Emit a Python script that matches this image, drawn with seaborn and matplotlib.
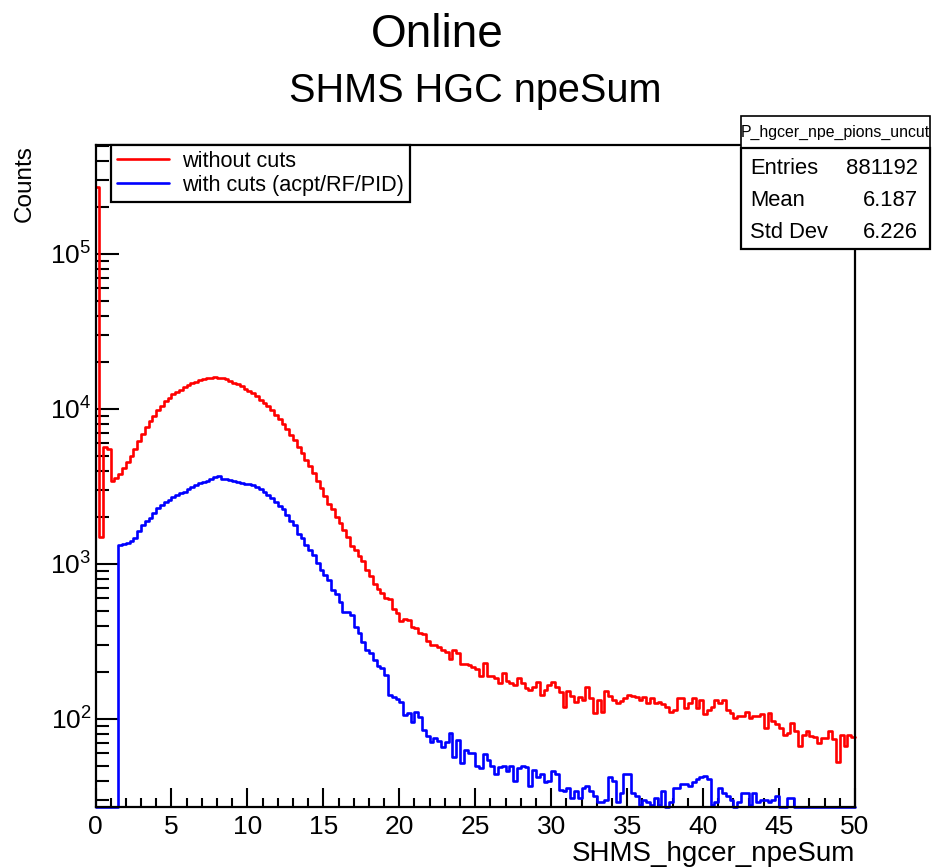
import numpy as np
import pandas as pd
import matplotlib
matplotlib.use("Agg")
import matplotlib.pyplot as plt
import seaborn as sns
from matplotlib.ticker import FixedLocator, LogLocator, MultipleLocator, NullFormatter, FixedFormatter
from matplotlib.patches import Rectangle
from matplotlib.lines import Line2D

# ---------------- data ----------------
X_MIN, X_MAX, N_BINS = 0.0, 50.0, 200

red_counts = [
    270000, 1500, 5700, 5500, 3450, 3600, 3800, 4150, 4550, 5000,
    5500, 6200, 6900, 7600, 8300, 9000, 9800, 10500, 11200, 11800,
    12400, 12900, 13300, 13800, 14300, 14700, 15000, 15300, 15600, 15800,
    15900, 16000, 15900, 15800, 15500, 15200, 14800, 14400, 14000, 13500,
    13100, 12700, 12100, 11500, 11000, 10400, 9800, 9100, 8600, 8000,
    7400, 6800, 6300, 5700, 5200, 4700, 4300, 3850, 3450, 3100,
    2750, 2450, 2250, 2000, 1830, 1650, 1500, 1300, 1230, 1120,
    1050, 920, 830, 740, 690, 650, 600, 590, 510, 480,
    430, 440, 435, 390, 385, 360, 355, 320, 300, 300,
    290, 280, 270, 245, 280, 265, 225, 225, 222, 215,
    210, 190, 229, 190, 189, 183, 170, 199, 175, 170,
    166, 183, 170, 158, 154, 160, 174, 143, 154, 165,
    174, 160, 150, 120, 152, 140, 129, 139, 133, 160,
    136, 109, 133, 110, 152, 140, 133, 126, 130, 136,
    143, 140, 139, 133, 139, 126, 136, 126, 129, 125,
    120, 111, 114, 136, 136, 117, 126, 136, 117, 133,
    107, 114, 120, 133, 126, 133, 114, 109, 101, 105,
    104, 110, 101, 105, 105, 107, 87, 109, 97, 92,
    87, 79, 81, 94, 83, 67, 79, 83, 77, 76,
    70, 75, 75, 83, 74, 53, 79, 67, 79, 76,
]

blue_counts = [
    0, 0, 0, 0, 0, 0, 1330, 1340, 1360, 1400,
    1480, 1620, 1780, 1880, 1980, 2120, 2290, 2400, 2520, 2600,
    2690, 2790, 2860, 2930, 3050, 3150, 3250, 3320, 3400, 3450,
    3550, 3620, 3700, 3520, 3550, 3480, 3450, 3400, 3350, 3300,
    3280, 3230, 3150, 3050, 2900, 2780, 2650, 2520, 2380, 2250,
    2080, 1900, 1780, 1560, 1470, 1330, 1230, 1140, 1010, 915,
    850, 789, 680, 640, 571, 492, 490, 470, 394, 360,
    315, 280, 265, 240, 218, 212, 192, 143, 139, 135,
    129, 106, 109, 96, 111, 103, 85, 78, 71, 75,
    72, 66, 71, 81, 57, 73, 52, 63, 60, 60,
    50, 48, 59, 54, 50, 44, 49, 50, 46, 50,
    40, 48, 50, 49, 37, 47, 42, 44, 39, 40,
    46, 44, 35, 34, 36, 31, 34, 31, 36, 37,
    34, 32, 29, 29, 30, 42, 40, 29, 33, 44,
    44, 33, 32, 28, 30, 29, 28, 31, 28, 34,
    0, 29, 36, 36, 38, 38, 37, 39, 41, 42,
    43, 41, 28, 29, 36, 33, 32, 30, 0, 29,
    33, 33, 28, 33, 29, 30, 30, 29, 30, 32,
    27, 0, 31, 31, 0, 0, 0, 0, 0, 0,
    0, 0, 0, 0, 0, 0, 0, 0, 0, 0,
]

legend_labels = ["without cuts", "with cuts (acpt/RF/PID)"]
series_colors = ["#ff0000", "#0000ff"]
x_ticks = [0, 5, 10, 15, 20, 25, 30, 35, 40, 45, 50]
x_tick_labels = ["0", "5", "10", "15", "20", "25", "30", "35", "40", "45", "50"]
y_ticks = [1e2, 1e3, 1e4, 1e5]
y_tick_labels = [r"$\mathregular{10^{2}}$", r"$\mathregular{10^{3}}$",
                 r"$\mathregular{10^{4}}$", r"$\mathregular{10^{5}}$"]
Y_MIN, Y_MAX = 27.0, 5.05e5
stats_title = "P_hgcer_npe_pions_uncut"
stats_names = ["Entries", "Mean", "Std Dev"]
stats_values = ["881192", "6.187", "6.226"]

# ---------------- style ----------------
sns.set_theme(style="white")
plt.rcParams["font.family"] = ["Liberation Sans", "DejaVu Sans"]
plt.rcParams["mathtext.fontset"] = "custom"
plt.rcParams["mathtext.rm"] = "Liberation Sans"
plt.rcParams["mathtext.it"] = "Liberation Sans:italic"
plt.rcParams["mathtext.bf"] = "Liberation Sans:bold"

W, H = 932, 868
fig = plt.figure(figsize=(W / 100, H / 100), dpi=100)
fig.patch.set_facecolor("white")

AX_L, AX_R, AX_T, AX_B = 95.5, 855.0, 145.0, 807.0
ax = fig.add_axes([AX_L / W, 1 - AX_B / H, (AX_R - AX_L) / W, (AX_B - AX_T) / H])
ax.set_facecolor("white")
ax.set_yscale("log")

edges = np.linspace(X_MIN, X_MAX, N_BINS + 1)
centers = 0.5 * (edges[:-1] + edges[1:])
n = len(centers)
df = pd.DataFrame({
    "npe": np.concatenate([centers, centers]),
    "counts": np.concatenate([np.clip(red_counts, Y_MIN, None),
                              np.clip(blue_counts, Y_MIN, None)]),
    "series": [legend_labels[0]] * n + [legend_labels[1]] * n,
})

sns.histplot(data=df, x="npe", weights="counts", hue="series", bins=list(edges),
             element="step", fill=False, hue_order=legend_labels,
             palette=dict(zip(legend_labels, series_colors)),
             linewidth=1.9, clip_on=False, legend=False, ax=ax)

ax.set_xlim(X_MIN, X_MAX)
ax.set_ylim(Y_MIN, Y_MAX)
ax.set_xlabel("")
ax.set_ylabel("")
ax.grid(False)

ax.xaxis.set_major_locator(FixedLocator(x_ticks))
ax.xaxis.set_major_formatter(FixedFormatter(x_tick_labels))
ax.xaxis.set_minor_locator(MultipleLocator(1))
ax.yaxis.set_major_locator(FixedLocator(y_ticks))
ax.yaxis.set_major_formatter(FixedFormatter(y_tick_labels))
ax.yaxis.set_minor_locator(LogLocator(base=10, subs=np.arange(2, 10)))
ax.yaxis.set_minor_formatter(NullFormatter())

ax.tick_params(axis="x", which="major", direction="in", length=13.5, width=1.5,
               labelsize=19, pad=6, top=False, bottom=True, color="black", labelcolor="black")
ax.tick_params(axis="x", which="minor", direction="in", length=6.8, width=1.5,
               top=False, bottom=True, color="black")
ax.tick_params(axis="y", which="major", direction="in", length=16.5, width=1.5,
               labelsize=19, pad=3, right=False, left=True, color="black", labelcolor="black")
ax.tick_params(axis="y", which="minor", direction="in", length=9, width=1.5,
               right=False, left=True, color="black")
for sp in ax.spines.values():
    sp.set_color("black")
    sp.set_linewidth(1.6)
    sp.set_visible(True)

# legend
handles = [Line2D([], [], color=c, lw=1.9) for c in series_colors]
leg = ax.legend(handles, legend_labels, loc="upper left",
                bbox_to_anchor=(110.7 / W, 1 - 145 / H), bbox_transform=fig.transFigure,
                borderaxespad=0, borderpad=0.28, handlelength=2.4, handletextpad=0.6,
                labelspacing=0.12, fontsize=15.6, frameon=True, fancybox=False,
                framealpha=1, edgecolor="black")
leg.get_frame().set_linewidth(1.6)
for t in leg.get_texts():
    t.set_color("black")

# titles and axis titles
fig.text(437 / W, 1 - 47 / H, "Online", ha="center", va="baseline", fontsize=33, color="black")
fig.text(475 / W, 1 - 102 / H, "SHMS HGC npeSum", ha="center", va="baseline", fontsize=28.5, color="black")
fig.text(25 / W, 1 - 145 / H, "Counts", ha="center", va="top", rotation=90, fontsize=17.5, color="black")
fig.text(855 / W, 1 - 861 / H, "SHMS_hgcer_npeSum", ha="right", va="baseline", fontsize=20, color="black")

# statistics box
SB_L, SB_R, SB_T, SB_M, SB_B = 741, 930, 116, 148, 249
fig.add_artist(Rectangle((SB_L / W, 1 - SB_M / H), (SB_R - SB_L) / W, (SB_M - SB_T) / H,
                         transform=fig.transFigure, facecolor="white", edgecolor="black",
                         lw=1.2, zorder=5))
fig.add_artist(Rectangle((SB_L / W, 1 - SB_B / H), (SB_R - SB_L) / W, (SB_B - SB_M) / H,
                         transform=fig.transFigure, facecolor="white", edgecolor="black",
                         lw=1.6, zorder=5))
fig.text((SB_L + SB_R) / 2 / W, 1 - 132 / H, stats_title, ha="center", va="center",
         fontsize=11.4, color="black", zorder=6)
for i, (nm, val) in enumerate(zip(stats_names, stats_values)):
    yy = 168 + i * 32.5
    fig.text(750 / W, 1 - yy / H, nm, ha="left", va="center", fontsize=15.8, color="black", zorder=6)
    fig.text(918 / W, 1 - yy / H, val, ha="right", va="center", fontsize=15.8, color="black", zorder=6)

fig.savefig("out.png", dpi=100, facecolor="white")
